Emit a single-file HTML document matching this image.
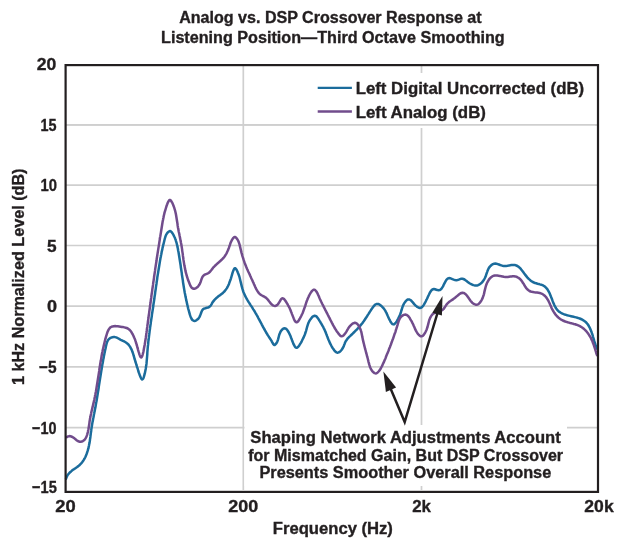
<!DOCTYPE html>
<html><head><meta charset="utf-8"><style>html,body{margin:0;padding:0;background:#fff;width:625px;height:549px;overflow:hidden}svg{display:block;will-change:transform}text{font-family:"Liberation Sans",sans-serif;font-weight:bold}</style></head>
<body><svg width="625" height="549" viewBox="0 0 625 549"><rect width="625" height="549" fill="#fff"/><line x1="66" y1="124.8" x2="597" y2="124.8" stroke="#cfcfcf" stroke-width="1.7"/><line x1="66" y1="185.2" x2="597" y2="185.2" stroke="#cfcfcf" stroke-width="1.7"/><line x1="66" y1="245.5" x2="597" y2="245.5" stroke="#cfcfcf" stroke-width="1.7"/><line x1="66" y1="306.2" x2="597" y2="306.2" stroke="#cfcfcf" stroke-width="1.7"/><line x1="66" y1="366.9" x2="597" y2="366.9" stroke="#cfcfcf" stroke-width="1.7"/><line x1="66" y1="427.6" x2="597" y2="427.6" stroke="#cfcfcf" stroke-width="1.7"/><line x1="243.3" y1="66" x2="243.3" y2="490" stroke="#cfcfcf" stroke-width="1.7"/><line x1="421.5" y1="66" x2="421.5" y2="490" stroke="#cfcfcf" stroke-width="1.7"/><rect x="310" y="73" width="285" height="55" fill="#fff"/><line x1="66" y1="124.8" x2="597" y2="124.8" stroke="#cfcfcf" stroke-width="1.7"/><rect x="244.5" y="425" width="322.5" height="61" fill="#fff"/><path d="M66.1,478.7 L66.5,477.4 L67.1,476.1 L67.7,475.0 L68.5,474.0 L69.3,473.1 L70.1,472.2 L71.1,471.4 L72.0,470.6 L73.0,469.8 L74.1,469.1 L75.1,468.4 L76.1,467.7 L77.2,467.0 L78.1,466.2 L79.1,465.5 L80.0,464.6 L80.9,463.7 L81.7,462.8 L82.5,461.8 L83.2,460.8 L83.9,459.7 L84.5,458.7 L85.1,457.5 L85.6,456.4 L86.1,455.2 L86.6,454.0 L87.0,452.8 L87.4,451.6 L87.8,450.4 L88.1,449.2 L88.5,448.0 L88.7,446.8 L89.0,445.5 L89.2,444.3 L89.5,443.1 L89.7,441.9 L89.9,440.6 L90.0,439.4 L90.2,438.2 L90.4,436.9 L90.5,435.7 L90.7,434.5 L90.8,433.2 L91.0,432.0 L91.2,430.7 L91.3,429.5 L91.5,428.3 L91.7,427.0 L91.9,425.8 L92.1,424.6 L92.3,423.4 L92.5,422.1 L92.8,420.9 L93.0,419.7 L93.2,418.4 L93.5,417.2 L93.7,416.0 L93.9,414.8 L94.2,413.5 L94.4,412.3 L94.7,411.1 L94.9,409.8 L95.1,408.6 L95.4,407.4 L95.6,406.2 L95.8,404.9 L96.0,403.7 L96.2,402.5 L96.5,401.2 L96.7,400.0 L96.9,398.8 L97.1,397.5 L97.3,396.3 L97.5,395.1 L97.7,393.8 L97.9,392.6 L98.1,391.4 L98.3,390.2 L98.5,388.9 L98.7,387.7 L98.8,386.5 L99.0,385.2 L99.2,384.0 L99.4,382.8 L99.6,381.5 L99.8,380.3 L100.0,379.0 L100.2,377.8 L100.4,376.6 L100.6,375.3 L100.8,374.1 L101.0,372.9 L101.2,371.6 L101.4,370.4 L101.6,369.2 L101.8,367.9 L102.0,366.7 L102.2,365.5 L102.4,364.2 L102.7,363.0 L102.9,361.8 L103.1,360.5 L103.3,359.3 L103.6,358.1 L103.8,356.8 L104.0,355.6 L104.3,354.4 L104.5,353.1 L104.8,351.9 L105.0,350.7 L105.3,349.4 L105.6,348.2 L105.8,347.0 L106.1,345.7 L106.4,344.5 L106.7,343.3 L107.1,342.1 L107.6,341.0 L108.2,339.9 L109.0,339.0 L110.0,338.2 L111.2,337.6 L112.4,337.2 L113.7,337.0 L114.9,337.1 L116.1,337.4 L117.3,337.9 L118.4,338.5 L119.6,339.2 L120.7,339.8 L121.9,340.3 L123.0,340.9 L124.1,341.4 L125.2,342.0 L126.3,342.7 L127.2,343.4 L128.1,344.2 L128.9,345.1 L129.6,346.1 L130.3,347.2 L130.9,348.3 L131.5,349.4 L132.0,350.6 L132.4,351.8 L132.9,353.1 L133.3,354.3 L133.6,355.5 L134.0,356.7 L134.3,357.9 L134.6,359.0 L135.0,360.2 L135.3,361.2 L135.6,362.3 L136.0,363.4 L136.3,364.5 L136.7,365.7 L137.0,366.9 L137.5,368.1 L137.9,369.5 L138.3,371.0 L138.8,372.5 L139.4,374.1 L139.9,375.6 L140.5,377.0 L141.0,378.1 L141.6,379.0 L142.1,379.4 L142.6,379.3 L143.1,378.7 L143.6,377.7 L144.0,376.4 L144.4,374.9 L144.8,373.4 L145.1,371.9 L145.4,370.4 L145.7,369.0 L145.9,367.6 L146.1,366.3 L146.3,365.0 L146.5,363.7 L146.6,362.5 L146.7,361.2 L146.8,360.0 L146.9,358.8 L147.0,357.6 L147.1,356.5 L147.2,355.3 L147.3,354.1 L147.3,353.0 L147.4,351.8 L147.5,350.6 L147.6,349.4 L147.7,348.2 L147.8,347.1 L147.9,345.9 L148.1,344.7 L148.2,343.4 L148.3,342.2 L148.4,341.0 L148.6,339.8 L148.7,338.6 L148.9,337.4 L149.0,336.1 L149.2,334.9 L149.3,333.7 L149.5,332.4 L149.6,331.2 L149.8,329.9 L150.0,328.7 L150.1,327.4 L150.3,326.2 L150.5,324.9 L150.7,323.7 L150.8,322.4 L151.0,321.2 L151.2,319.9 L151.4,318.6 L151.6,317.4 L151.8,316.1 L151.9,314.9 L152.1,313.6 L152.3,312.3 L152.5,311.1 L152.7,309.8 L152.9,308.6 L153.1,307.3 L153.3,306.0 L153.4,304.8 L153.6,303.5 L153.8,302.3 L154.0,301.0 L154.2,299.8 L154.4,298.5 L154.5,297.3 L154.7,296.0 L154.9,294.8 L155.1,293.5 L155.2,292.3 L155.4,291.1 L155.6,289.8 L155.8,288.6 L155.9,287.4 L156.1,286.1 L156.3,284.9 L156.5,283.7 L156.6,282.5 L156.8,281.2 L157.0,280.0 L157.2,278.8 L157.3,277.5 L157.5,276.3 L157.7,275.1 L157.9,273.9 L158.1,272.7 L158.3,271.4 L158.5,270.2 L158.7,269.0 L158.9,267.8 L159.1,266.5 L159.3,265.3 L159.5,264.1 L159.7,262.9 L159.9,261.6 L160.1,260.4 L160.3,259.2 L160.5,258.0 L160.8,256.7 L161.0,255.5 L161.3,254.3 L161.5,253.1 L161.7,251.8 L162.0,250.6 L162.3,249.4 L162.5,248.1 L162.8,246.9 L163.1,245.7 L163.4,244.4 L163.7,243.2 L164.0,242.0 L164.3,240.7 L164.6,239.5 L164.9,238.3 L165.3,237.0 L165.7,235.8 L166.2,234.7 L166.9,233.6 L167.7,232.5 L168.7,231.6 L169.8,231.1 L170.8,231.3 L171.6,232.1 L172.4,233.2 L173.0,234.2 L173.7,235.4 L174.2,236.5 L174.8,237.6 L175.2,238.7 L175.7,239.9 L176.0,241.1 L176.4,242.3 L176.7,243.5 L177.0,244.7 L177.3,245.9 L177.5,247.1 L177.8,248.3 L178.0,249.5 L178.2,250.8 L178.5,252.0 L178.7,253.2 L178.9,254.5 L179.1,255.7 L179.3,257.0 L179.5,258.2 L179.7,259.5 L179.9,260.7 L180.1,262.0 L180.3,263.2 L180.5,264.5 L180.7,265.8 L180.8,267.0 L181.0,268.3 L181.2,269.5 L181.4,270.8 L181.6,272.1 L181.8,273.3 L181.9,274.6 L182.1,275.8 L182.3,277.1 L182.5,278.3 L182.7,279.6 L182.9,280.8 L183.0,282.1 L183.2,283.3 L183.4,284.5 L183.6,285.8 L183.8,287.0 L184.0,288.2 L184.2,289.4 L184.4,290.6 L184.6,291.8 L184.8,293.0 L185.1,294.2 L185.3,295.4 L185.5,296.6 L185.8,297.8 L186.0,298.9 L186.2,300.1 L186.5,301.2 L186.8,302.4 L187.0,303.6 L187.3,304.8 L187.6,306.0 L187.9,307.3 L188.2,308.6 L188.6,310.0 L189.0,311.4 L189.4,312.9 L189.8,314.4 L190.3,315.9 L190.8,317.2 L191.4,318.5 L192.0,319.5 L192.8,320.3 L193.6,320.8 L194.5,320.9 L195.6,320.7 L196.6,320.1 L197.7,319.3 L198.6,318.3 L199.4,317.1 L200.0,315.9 L200.5,314.6 L201.0,313.3 L201.4,312.1 L201.9,310.9 L202.5,309.9 L203.2,309.1 L204.2,308.5 L205.4,308.2 L206.7,307.8 L208.0,307.5 L209.1,307.0 L210.1,306.3 L210.8,305.4 L211.5,304.3 L212.1,303.2 L212.7,302.1 L213.5,301.1 L214.3,300.1 L215.2,299.2 L216.1,298.3 L217.1,297.4 L218.1,296.6 L219.1,295.8 L220.2,295.1 L221.2,294.3 L222.2,293.5 L223.1,292.7 L224.0,291.8 L224.8,291.0 L225.5,290.1 L226.2,289.1 L226.9,288.1 L227.4,287.1 L228.0,286.1 L228.5,285.0 L229.0,283.9 L229.4,282.7 L229.8,281.5 L230.3,280.3 L230.7,279.1 L231.1,277.8 L231.5,276.5 L231.9,275.1 L232.3,273.7 L232.7,272.3 L233.2,270.9 L233.7,269.7 L234.2,268.7 L234.8,268.2 L235.4,268.3 L236.0,269.0 L236.7,270.0 L237.3,271.2 L237.8,272.5 L238.3,273.7 L238.8,275.0 L239.2,276.2 L239.6,277.5 L239.9,278.7 L240.2,280.0 L240.5,281.2 L240.8,282.4 L241.1,283.6 L241.4,284.9 L241.7,286.1 L242.0,287.3 L242.3,288.4 L242.7,289.6 L243.0,290.8 L243.4,291.9 L243.9,293.1 L244.4,294.2 L244.9,295.3 L245.4,296.4 L246.0,297.5 L246.6,298.6 L247.2,299.7 L247.9,300.8 L248.5,301.9 L249.2,302.9 L249.9,304.0 L250.6,305.1 L251.3,306.1 L252.0,307.2 L252.7,308.3 L253.3,309.3 L254.0,310.4 L254.7,311.5 L255.3,312.6 L255.9,313.6 L256.5,314.7 L257.2,315.8 L257.8,316.9 L258.3,318.0 L258.9,319.1 L259.5,320.2 L260.1,321.3 L260.7,322.4 L261.3,323.5 L261.8,324.6 L262.4,325.7 L263.0,326.8 L263.6,327.9 L264.2,329.0 L264.8,330.0 L265.4,331.1 L266.0,332.2 L266.6,333.3 L267.3,334.3 L267.9,335.4 L268.6,336.4 L269.3,337.5 L270.0,338.5 L270.7,339.6 L271.4,340.7 L272.0,341.8 L272.7,343.0 L273.3,344.2 L274.0,344.9 L274.7,344.9 L275.6,344.2 L276.5,343.1 L277.2,341.8 L277.7,340.5 L278.1,339.3 L278.4,338.1 L278.7,337.0 L279.0,335.8 L279.3,334.6 L279.8,333.4 L280.3,332.2 L281.0,331.0 L281.9,329.9 L282.8,329.0 L283.7,328.4 L284.7,328.3 L285.7,328.6 L286.6,329.3 L287.4,330.3 L288.2,331.5 L288.9,332.7 L289.5,333.9 L290.0,335.0 L290.5,336.1 L290.9,337.2 L291.3,338.3 L291.8,339.5 L292.2,340.8 L292.8,342.2 L293.3,343.6 L294.0,345.0 L294.7,346.2 L295.4,347.2 L296.2,347.7 L297.0,347.7 L297.8,347.2 L298.6,346.4 L299.4,345.2 L300.2,343.9 L301.0,342.6 L301.7,341.3 L302.3,340.0 L302.9,338.8 L303.5,337.7 L304.0,336.6 L304.4,335.5 L304.9,334.4 L305.3,333.3 L305.6,332.2 L306.0,331.1 L306.3,330.0 L306.6,328.9 L306.9,327.7 L307.2,326.6 L307.6,325.4 L308.0,324.2 L308.4,323.0 L309.0,321.8 L309.6,320.6 L310.4,319.4 L311.3,318.2 L312.2,317.1 L313.2,316.3 L314.2,315.8 L315.2,315.8 L316.2,316.2 L317.0,317.1 L317.9,318.2 L318.7,319.4 L319.4,320.6 L320.2,321.8 L320.8,322.9 L321.5,324.0 L322.1,325.1 L322.7,326.2 L323.3,327.2 L323.8,328.3 L324.4,329.4 L324.9,330.5 L325.3,331.6 L325.8,332.7 L326.2,333.8 L326.7,335.0 L327.1,336.2 L327.6,337.3 L328.0,338.5 L328.5,339.7 L329.0,340.8 L329.5,342.0 L330.0,343.2 L330.6,344.3 L331.2,345.5 L331.8,346.6 L332.4,347.7 L333.2,348.8 L333.9,349.8 L334.7,350.9 L335.6,351.8 L336.5,352.4 L337.5,352.7 L338.6,352.4 L339.7,351.8 L340.8,350.8 L341.7,349.7 L342.5,348.6 L343.1,347.4 L343.7,346.3 L344.1,345.1 L344.6,343.9 L345.0,342.8 L345.5,341.7 L346.1,340.7 L346.8,339.7 L347.5,338.7 L348.3,337.8 L349.2,336.9 L350.1,336.1 L351.0,335.2 L352.0,334.3 L352.9,333.4 L353.8,332.5 L354.7,331.6 L355.6,330.7 L356.5,329.8 L357.4,328.9 L358.2,328.0 L359.1,327.0 L359.9,326.1 L360.7,325.1 L361.5,324.2 L362.3,323.2 L363.0,322.2 L363.7,321.3 L364.4,320.3 L365.1,319.3 L365.7,318.2 L366.4,317.2 L367.1,316.2 L367.7,315.1 L368.4,314.1 L369.1,313.0 L369.8,311.9 L370.5,310.8 L371.2,309.7 L372.0,308.6 L372.8,307.4 L373.6,306.3 L374.5,305.3 L375.4,304.5 L376.4,304.0 L377.5,303.9 L378.6,304.1 L379.7,304.7 L380.8,305.5 L381.8,306.4 L382.7,307.3 L383.5,308.2 L384.2,309.1 L384.9,310.1 L385.5,311.1 L386.0,312.1 L386.6,313.2 L387.1,314.4 L387.6,315.6 L388.2,316.9 L388.8,318.2 L389.5,319.7 L390.2,321.0 L390.9,322.3 L391.7,323.3 L392.5,324.1 L393.4,324.4 L394.2,324.2 L395.0,323.5 L395.9,322.5 L396.7,321.4 L397.4,320.1 L398.1,318.8 L398.7,317.6 L399.3,316.4 L399.8,315.3 L400.2,314.2 L400.7,313.1 L401.0,312.0 L401.3,310.8 L401.7,309.7 L402.0,308.5 L402.4,307.3 L402.8,306.1 L403.4,304.9 L404.0,303.6 L404.8,302.4 L405.7,301.2 L406.6,300.3 L407.6,299.6 L408.6,299.4 L409.5,299.5 L410.4,300.0 L411.4,300.8 L412.3,301.8 L413.2,302.9 L414.2,304.1 L415.2,305.2 L416.3,306.1 L417.3,306.9 L418.4,307.5 L419.4,307.9 L420.4,307.9 L421.4,307.5 L422.2,306.8 L423.1,305.9 L423.8,304.8 L424.5,303.6 L425.2,302.4 L425.8,301.2 L426.3,300.1 L426.9,299.0 L427.4,297.9 L427.9,296.8 L428.4,295.7 L429.0,294.5 L429.6,293.2 L430.3,292.0 L431.0,290.9 L431.9,289.9 L432.8,289.3 L433.9,289.1 L435.1,289.3 L436.3,289.7 L437.5,290.1 L438.6,290.3 L439.7,290.1 L440.6,289.5 L441.5,288.7 L442.2,287.6 L443.0,286.4 L443.6,285.0 L444.3,283.6 L445.0,282.3 L445.7,281.0 L446.4,279.9 L447.2,279.0 L448.1,278.4 L449.0,278.1 L450.1,278.2 L451.2,278.6 L452.4,279.1 L453.7,279.6 L455.0,280.0 L456.3,280.2 L457.5,280.0 L458.8,279.6 L460.0,279.1 L461.2,278.8 L462.3,278.7 L463.4,279.0 L464.5,279.5 L465.5,280.3 L466.6,281.1 L467.7,281.9 L468.8,282.7 L469.9,283.5 L471.1,284.1 L472.3,284.7 L473.5,285.1 L474.6,285.4 L475.8,285.5 L476.9,285.5 L478.0,285.2 L479.1,284.7 L480.1,284.0 L481.1,283.3 L482.0,282.4 L482.8,281.4 L483.6,280.3 L484.3,279.1 L484.9,278.0 L485.5,276.8 L485.9,275.6 L486.3,274.4 L486.7,273.2 L487.1,272.1 L487.5,270.9 L488.0,269.8 L488.5,268.7 L489.1,267.6 L489.9,266.6 L490.8,265.7 L491.8,264.8 L492.9,264.1 L494.1,263.7 L495.3,263.6 L496.5,263.7 L497.7,264.1 L498.9,264.5 L500.2,265.0 L501.4,265.4 L502.6,265.7 L503.8,265.9 L505.0,265.9 L506.2,265.9 L507.5,265.8 L508.8,265.6 L510.2,265.3 L511.5,265.1 L512.8,265.0 L514.0,265.0 L515.2,265.1 L516.3,265.5 L517.4,266.0 L518.3,266.6 L519.3,267.4 L520.1,268.2 L521.0,269.2 L521.8,270.2 L522.6,271.2 L523.4,272.3 L524.2,273.4 L524.9,274.4 L525.7,275.4 L526.5,276.4 L527.3,277.4 L528.1,278.3 L529.0,279.1 L529.9,279.9 L530.8,280.7 L531.8,281.4 L532.8,282.0 L533.9,282.5 L535.1,283.0 L536.3,283.3 L537.5,283.7 L538.8,284.0 L540.0,284.4 L541.2,284.7 L542.4,285.2 L543.5,285.7 L544.4,286.3 L545.4,287.1 L546.2,287.9 L547.0,288.8 L547.7,289.8 L548.3,290.8 L548.9,291.9 L549.5,293.0 L550.0,294.2 L550.5,295.4 L551.0,296.7 L551.5,297.9 L552.0,299.2 L552.4,300.4 L552.9,301.7 L553.4,302.9 L553.9,304.1 L554.4,305.3 L555.0,306.4 L555.6,307.5 L556.2,308.5 L557.0,309.5 L557.7,310.4 L558.6,311.2 L559.5,311.9 L560.4,312.5 L561.5,313.1 L562.5,313.6 L563.7,314.1 L564.8,314.5 L566.0,314.9 L567.2,315.3 L568.5,315.6 L569.8,315.9 L571.0,316.2 L572.3,316.5 L573.6,316.8 L574.8,317.1 L576.1,317.4 L577.3,317.7 L578.5,318.1 L579.7,318.5 L580.9,319.0 L582.0,319.5 L583.0,320.1 L584.0,320.7 L585.0,321.4 L585.9,322.2 L586.7,323.1 L587.5,324.0 L588.2,325.0 L588.8,326.0 L589.4,327.1 L590.0,328.3 L590.5,329.5 L591.0,330.7 L591.5,331.9 L591.9,333.2 L592.4,334.5 L592.8,335.8 L593.1,337.1 L593.5,338.3 L593.9,339.6 L594.2,340.9 L594.6,342.1 L595.0,343.3 L595.4,344.5 L595.8,345.6 L596.2,346.7 L596.6,347.7 L597.0,348.7" fill="none" stroke="#1b6c9c" stroke-width="2.5" stroke-linejoin="round" stroke-linecap="round"/><path d="M66.8,437.1 L68.1,436.4 L69.4,436.1 L70.6,436.3 L71.8,436.7 L72.9,437.3 L74.0,438.1 L75.2,439.0 L76.2,439.9 L77.3,440.7 L78.4,441.3 L79.6,441.7 L80.7,441.8 L81.8,441.6 L82.9,441.1 L84.0,440.3 L84.9,439.4 L85.6,438.3 L86.2,437.1 L86.7,435.9 L87.2,434.6 L87.5,433.3 L87.9,432.0 L88.1,430.8 L88.4,429.5 L88.6,428.2 L88.8,427.0 L89.0,425.8 L89.2,424.5 L89.4,423.3 L89.5,422.0 L89.7,420.8 L89.9,419.6 L90.1,418.3 L90.4,417.1 L90.6,415.8 L90.9,414.5 L91.2,413.3 L91.4,412.0 L91.7,410.7 L92.0,409.5 L92.3,408.2 L92.6,406.9 L92.9,405.7 L93.2,404.4 L93.5,403.1 L93.8,401.9 L94.1,400.6 L94.4,399.3 L94.6,398.0 L94.9,396.8 L95.1,395.5 L95.4,394.3 L95.6,393.0 L95.9,391.7 L96.1,390.5 L96.3,389.2 L96.5,388.0 L96.7,386.7 L96.9,385.5 L97.1,384.2 L97.3,382.9 L97.5,381.7 L97.7,380.4 L97.9,379.2 L98.1,377.9 L98.3,376.7 L98.5,375.4 L98.7,374.2 L98.9,372.9 L99.1,371.7 L99.3,370.4 L99.4,369.2 L99.6,367.9 L99.8,366.7 L100.0,365.4 L100.2,364.2 L100.4,362.9 L100.6,361.6 L100.9,360.4 L101.1,359.1 L101.3,357.9 L101.5,356.6 L101.7,355.3 L102.0,354.1 L102.2,352.8 L102.5,351.5 L102.7,350.3 L103.0,349.0 L103.3,347.7 L103.6,346.4 L103.9,345.1 L104.2,343.9 L104.5,342.6 L104.8,341.3 L105.1,340.0 L105.5,338.7 L105.8,337.4 L106.2,336.1 L106.6,334.8 L107.0,333.5 L107.4,332.3 L107.9,331.1 L108.5,329.9 L109.1,328.9 L109.8,328.0 L110.6,327.3 L111.6,326.7 L112.6,326.4 L113.8,326.2 L115.1,326.1 L116.4,326.2 L117.8,326.3 L119.2,326.5 L120.5,326.7 L121.9,326.9 L123.2,327.1 L124.4,327.4 L125.6,327.7 L126.7,328.0 L127.8,328.5 L128.8,329.2 L129.8,330.0 L130.6,331.0 L131.4,332.1 L132.1,333.3 L132.8,334.5 L133.4,335.7 L133.9,336.9 L134.4,338.1 L134.9,339.2 L135.3,340.4 L135.7,341.5 L136.0,342.7 L136.4,343.8 L136.7,345.0 L137.1,346.2 L137.4,347.5 L137.8,348.7 L138.1,350.1 L138.5,351.4 L139.0,352.9 L139.4,354.3 L139.9,355.7 L140.4,356.8 L141.0,357.4 L141.4,357.4 L141.9,356.8 L142.3,355.8 L142.7,354.5 L143.1,352.9 L143.5,351.2 L143.8,349.5 L144.1,347.8 L144.4,346.3 L144.7,344.8 L144.9,343.4 L145.1,342.1 L145.3,340.8 L145.5,339.6 L145.7,338.4 L145.9,337.2 L146.0,336.1 L146.2,335.0 L146.3,333.8 L146.5,332.7 L146.6,331.5 L146.8,330.4 L146.9,329.2 L147.1,327.9 L147.3,326.7 L147.4,325.5 L147.6,324.2 L147.8,323.0 L147.9,321.7 L148.1,320.4 L148.3,319.1 L148.5,317.8 L148.6,316.5 L148.8,315.2 L149.0,313.9 L149.2,312.6 L149.3,311.4 L149.5,310.1 L149.7,308.8 L149.9,307.5 L150.0,306.2 L150.2,304.9 L150.4,303.6 L150.6,302.3 L150.7,301.1 L150.9,299.8 L151.1,298.5 L151.3,297.2 L151.4,295.9 L151.6,294.6 L151.8,293.3 L152.0,292.1 L152.2,290.8 L152.3,289.5 L152.5,288.2 L152.7,287.0 L152.9,285.7 L153.1,284.4 L153.2,283.1 L153.4,281.8 L153.6,280.6 L153.8,279.3 L154.0,278.0 L154.1,276.7 L154.3,275.5 L154.5,274.2 L154.7,272.9 L154.9,271.7 L155.1,270.4 L155.2,269.1 L155.4,267.9 L155.6,266.6 L155.8,265.3 L156.0,264.0 L156.2,262.8 L156.4,261.5 L156.6,260.3 L156.7,259.0 L156.9,257.7 L157.1,256.5 L157.3,255.2 L157.5,253.9 L157.7,252.7 L157.9,251.4 L158.1,250.1 L158.3,248.9 L158.5,247.6 L158.7,246.4 L158.9,245.1 L159.1,243.9 L159.3,242.6 L159.5,241.3 L159.7,240.1 L159.9,238.8 L160.0,237.6 L160.3,236.3 L160.5,235.1 L160.7,233.8 L160.9,232.6 L161.1,231.3 L161.3,230.0 L161.5,228.8 L161.7,227.5 L161.9,226.3 L162.1,225.0 L162.3,223.8 L162.5,222.5 L162.7,221.3 L163.0,220.0 L163.2,218.8 L163.5,217.5 L163.7,216.2 L164.0,215.0 L164.3,213.7 L164.6,212.4 L165.0,211.1 L165.4,209.8 L165.8,208.5 L166.2,207.2 L166.6,205.8 L167.1,204.5 L167.6,203.1 L168.2,201.9 L168.8,200.8 L169.4,200.1 L170.0,200.0 L170.7,200.3 L171.3,201.2 L172.0,202.3 L172.6,203.6 L173.2,205.0 L173.7,206.3 L174.2,207.7 L174.6,209.0 L175.0,210.3 L175.3,211.5 L175.6,212.8 L175.9,214.1 L176.1,215.3 L176.3,216.5 L176.5,217.8 L176.7,219.0 L176.9,220.2 L177.1,221.5 L177.3,222.7 L177.5,223.9 L177.6,225.2 L177.8,226.4 L178.0,227.7 L178.3,228.9 L178.5,230.2 L178.7,231.5 L179.0,232.7 L179.3,234.0 L179.5,235.3 L179.8,236.6 L180.0,237.9 L180.3,239.2 L180.5,240.4 L180.8,241.7 L181.0,243.0 L181.3,244.3 L181.5,245.6 L181.7,246.8 L181.9,248.1 L182.1,249.4 L182.2,250.6 L182.4,251.9 L182.6,253.1 L182.8,254.4 L182.9,255.7 L183.1,256.9 L183.3,258.2 L183.4,259.4 L183.6,260.6 L183.8,261.9 L184.0,263.1 L184.2,264.4 L184.4,265.6 L184.7,266.9 L184.9,268.1 L185.2,269.4 L185.4,270.6 L185.7,271.9 L186.0,273.2 L186.4,274.4 L186.7,275.7 L187.1,277.0 L187.5,278.2 L187.9,279.5 L188.4,280.8 L188.9,282.1 L189.4,283.3 L189.9,284.6 L190.5,285.9 L191.2,287.0 L191.9,287.9 L192.8,288.5 L193.7,288.8 L194.8,288.7 L196.0,288.1 L197.2,287.3 L198.2,286.3 L199.1,285.1 L199.8,283.9 L200.4,282.6 L200.8,281.4 L201.2,280.1 L201.6,278.9 L202.1,277.7 L202.7,276.6 L203.4,275.7 L204.3,274.9 L205.4,274.3 L206.7,273.8 L208.0,273.3 L209.1,272.6 L210.0,271.8 L210.8,270.8 L211.6,269.8 L212.4,268.7 L213.1,267.7 L214.0,266.8 L214.9,265.9 L215.8,265.0 L216.8,264.1 L217.7,263.3 L218.7,262.4 L219.7,261.6 L220.6,260.7 L221.6,259.8 L222.5,258.9 L223.4,258.0 L224.2,257.0 L224.9,256.0 L225.6,254.9 L226.3,253.8 L226.9,252.6 L227.4,251.5 L228.0,250.3 L228.4,249.1 L228.9,247.9 L229.3,246.7 L229.7,245.5 L230.1,244.4 L230.5,243.1 L231.0,241.9 L231.6,240.7 L232.3,239.4 L233.1,238.2 L234.0,237.3 L234.9,237.0 L235.8,237.4 L236.7,238.4 L237.5,239.5 L238.2,240.8 L238.7,242.0 L239.1,243.2 L239.5,244.4 L239.8,245.6 L240.1,246.9 L240.4,248.1 L240.7,249.4 L241.0,250.6 L241.3,251.9 L241.6,253.1 L242.0,254.4 L242.3,255.6 L242.7,256.9 L243.1,258.1 L243.5,259.4 L243.9,260.6 L244.3,261.8 L244.7,263.0 L245.2,264.2 L245.7,265.4 L246.1,266.5 L246.6,267.7 L247.1,268.9 L247.6,270.0 L248.1,271.2 L248.6,272.3 L249.2,273.5 L249.7,274.6 L250.2,275.8 L250.8,277.0 L251.3,278.2 L251.8,279.3 L252.4,280.5 L252.9,281.7 L253.5,282.9 L254.0,284.2 L254.6,285.4 L255.1,286.7 L255.7,287.9 L256.3,289.1 L256.9,290.2 L257.6,291.3 L258.3,292.4 L259.1,293.3 L260.0,294.2 L261.0,294.9 L262.0,295.5 L263.1,296.1 L264.2,296.7 L265.3,297.3 L266.3,298.1 L267.3,299.0 L268.2,300.1 L269.0,301.2 L269.9,302.3 L270.7,303.4 L271.6,304.3 L272.5,305.1 L273.5,305.6 L274.5,305.9 L275.5,305.9 L276.5,305.5 L277.5,304.7 L278.4,303.6 L279.2,302.3 L280.0,301.0 L280.7,299.8 L281.5,298.8 L282.3,298.3 L283.2,298.4 L284.1,299.1 L285.0,300.2 L285.9,301.5 L286.7,302.8 L287.5,304.1 L288.1,305.3 L288.7,306.4 L289.3,307.5 L289.8,308.5 L290.2,309.6 L290.7,310.7 L291.1,311.8 L291.6,312.9 L292.0,314.1 L292.5,315.4 L293.1,316.9 L293.7,318.4 L294.3,319.8 L295.0,321.1 L295.7,321.9 L296.5,322.3 L297.3,322.0 L298.2,321.2 L299.0,320.0 L299.8,318.7 L300.5,317.3 L301.2,316.0 L301.8,314.7 L302.4,313.5 L302.9,312.4 L303.3,311.2 L303.7,310.1 L304.1,309.0 L304.5,307.9 L304.9,306.8 L305.3,305.7 L305.6,304.6 L306.0,303.4 L306.4,302.2 L306.8,301.0 L307.3,299.8 L307.8,298.5 L308.4,297.2 L309.0,295.8 L309.7,294.5 L310.5,293.1 L311.3,291.9 L312.1,290.9 L313.0,290.1 L313.8,289.7 L314.6,289.8 L315.3,290.2 L316.0,291.0 L316.7,292.0 L317.4,293.2 L318.0,294.6 L318.7,296.0 L319.3,297.5 L319.9,298.9 L320.5,300.2 L321.1,301.5 L321.7,302.7 L322.3,304.0 L322.9,305.1 L323.5,306.3 L324.0,307.4 L324.6,308.5 L325.1,309.6 L325.7,310.7 L326.3,311.8 L326.8,312.9 L327.4,313.9 L327.9,315.0 L328.5,316.1 L329.0,317.1 L329.6,318.2 L330.1,319.4 L330.7,320.5 L331.3,321.6 L331.9,322.8 L332.5,323.9 L333.1,325.1 L333.7,326.2 L334.4,327.4 L335.0,328.6 L335.8,329.7 L336.5,330.9 L337.3,332.0 L338.1,333.1 L338.9,334.2 L339.8,335.2 L340.7,336.0 L341.7,336.3 L342.6,336.1 L343.5,335.4 L344.4,334.4 L345.3,333.3 L346.1,332.1 L346.8,330.9 L347.4,329.8 L348.1,328.7 L348.7,327.7 L349.5,326.6 L350.4,325.6 L351.4,324.6 L352.5,323.7 L353.7,323.1 L354.8,322.8 L355.9,323.0 L356.9,323.6 L357.9,324.6 L358.7,325.8 L359.4,327.0 L360.0,328.2 L360.5,329.4 L360.9,330.7 L361.3,331.9 L361.6,333.2 L361.8,334.4 L362.1,335.7 L362.3,336.9 L362.6,338.2 L362.8,339.4 L363.1,340.6 L363.4,341.9 L363.7,343.1 L364.0,344.3 L364.3,345.6 L364.6,346.8 L364.9,348.0 L365.2,349.2 L365.6,350.5 L365.9,351.7 L366.2,353.0 L366.6,354.2 L366.9,355.5 L367.2,356.7 L367.6,358.0 L367.9,359.2 L368.2,360.5 L368.5,361.8 L368.9,363.1 L369.2,364.4 L369.6,365.6 L370.0,366.9 L370.5,368.1 L371.0,369.2 L371.7,370.3 L372.5,371.4 L373.4,372.3 L374.4,373.1 L375.5,373.4 L376.6,373.2 L377.7,372.5 L378.6,371.5 L379.5,370.4 L380.3,369.3 L380.9,368.2 L381.5,367.0 L382.1,365.9 L382.6,364.7 L383.1,363.6 L383.7,362.4 L384.2,361.2 L384.7,360.0 L385.2,358.9 L385.7,357.7 L386.1,356.5 L386.6,355.3 L387.1,354.1 L387.6,352.9 L388.1,351.7 L388.6,350.5 L389.0,349.3 L389.5,348.1 L390.0,346.9 L390.4,345.7 L390.9,344.5 L391.3,343.3 L391.8,342.1 L392.2,340.9 L392.6,339.7 L393.1,338.5 L393.5,337.3 L393.9,336.1 L394.3,334.9 L394.7,333.7 L395.2,332.5 L395.6,331.3 L395.9,330.1 L396.3,328.9 L396.7,327.6 L397.1,326.4 L397.5,325.1 L397.8,323.9 L398.2,322.6 L398.6,321.3 L399.1,320.1 L399.6,318.9 L400.3,317.8 L401.1,316.8 L402.1,315.9 L403.3,315.2 L404.5,314.7 L405.7,314.6 L406.8,315.0 L407.8,315.7 L408.7,316.7 L409.6,317.8 L410.3,319.1 L411.0,320.3 L411.7,321.4 L412.2,322.6 L412.8,323.7 L413.3,324.8 L413.8,326.0 L414.3,327.1 L414.8,328.2 L415.3,329.4 L415.9,330.6 L416.5,331.7 L417.2,332.8 L417.9,333.9 L418.9,335.0 L419.9,335.8 L420.9,336.3 L422.0,336.2 L423.0,335.6 L423.9,334.6 L424.8,333.3 L425.5,332.0 L426.1,330.7 L426.7,329.4 L427.1,328.2 L427.5,327.0 L427.8,325.8 L428.1,324.6 L428.4,323.4 L428.7,322.2 L429.0,321.0 L429.4,319.7 L429.9,318.5 L430.4,317.3 L431.1,316.1 L431.8,315.1 L432.7,314.1 L433.7,313.4 L434.8,312.8 L436.0,312.3 L437.3,311.9 L438.6,311.5 L439.8,311.1 L441.0,310.7 L442.2,310.1 L443.1,309.4 L444.0,308.5 L444.7,307.4 L445.4,306.3 L446.1,305.2 L446.9,304.1 L447.8,303.2 L448.7,302.3 L449.7,301.5 L450.8,300.8 L451.8,300.1 L452.9,299.4 L453.9,298.6 L454.9,297.9 L455.9,297.0 L457.0,296.1 L458.1,295.2 L459.2,294.3 L460.3,293.5 L461.4,293.0 L462.5,292.7 L463.6,292.9 L464.6,293.4 L465.7,294.2 L466.6,295.3 L467.5,296.4 L468.3,297.5 L469.0,298.6 L469.8,299.7 L470.5,300.7 L471.3,301.7 L472.2,302.7 L473.2,303.5 L474.4,304.2 L475.6,304.7 L476.8,304.7 L477.9,304.4 L478.9,303.7 L479.9,302.7 L480.7,301.6 L481.5,300.3 L482.1,299.1 L482.7,297.9 L483.1,296.7 L483.5,295.5 L483.9,294.3 L484.2,293.1 L484.4,291.9 L484.7,290.6 L485.0,289.4 L485.3,288.2 L485.6,287.0 L486.0,285.7 L486.4,284.5 L486.9,283.2 L487.5,282.0 L488.2,280.8 L488.9,279.6 L489.7,278.6 L490.6,277.7 L491.5,276.9 L492.5,276.2 L493.6,275.8 L494.7,275.5 L495.9,275.4 L497.2,275.5 L498.5,275.7 L499.8,275.9 L501.2,276.2 L502.5,276.5 L503.9,276.8 L505.2,276.9 L506.5,277.0 L507.8,277.0 L509.1,276.8 L510.3,276.6 L511.5,276.4 L512.7,276.2 L513.9,276.2 L515.2,276.4 L516.4,276.7 L517.5,277.3 L518.7,277.9 L519.7,278.7 L520.6,279.7 L521.5,280.7 L522.3,281.8 L523.0,283.0 L523.8,284.1 L524.5,285.3 L525.2,286.5 L525.9,287.6 L526.7,288.6 L527.6,289.5 L528.5,290.3 L529.5,291.0 L530.6,291.5 L531.8,291.8 L533.1,292.1 L534.4,292.3 L535.7,292.4 L537.1,292.6 L538.4,292.8 L539.7,293.0 L540.9,293.4 L542.0,293.8 L543.1,294.5 L544.1,295.2 L545.0,296.0 L545.8,296.9 L546.6,297.9 L547.3,299.0 L548.0,300.1 L548.6,301.2 L549.1,302.3 L549.7,303.5 L550.2,304.7 L550.7,305.8 L551.2,307.0 L551.7,308.2 L552.3,309.4 L552.9,310.5 L553.6,311.7 L554.3,312.8 L555.0,313.8 L555.8,314.9 L556.7,315.8 L557.6,316.8 L558.6,317.7 L559.6,318.5 L560.6,319.2 L561.7,319.9 L562.8,320.5 L564.0,321.0 L565.2,321.5 L566.4,321.9 L567.6,322.3 L568.9,322.6 L570.2,323.0 L571.4,323.3 L572.7,323.6 L573.9,324.0 L575.2,324.3 L576.4,324.7 L577.6,325.2 L578.8,325.7 L579.9,326.2 L581.0,326.8 L582.1,327.5 L583.1,328.3 L584.1,329.1 L585.0,329.9 L585.9,330.8 L586.7,331.8 L587.5,332.8 L588.3,333.8 L589.0,334.9 L589.7,336.0 L590.4,337.1 L591.0,338.2 L591.5,339.4 L592.1,340.6 L592.6,341.8 L593.0,343.0 L593.5,344.2 L593.9,345.4 L594.3,346.7 L594.7,347.9 L595.1,349.1 L595.5,350.4 L595.9,351.6 L596.2,352.8 L596.6,354.0 L597.0,355.2" fill="none" stroke="#714c8c" stroke-width="2.5" stroke-linejoin="round" stroke-linecap="round"/><rect x="65.6" y="65.1" width="532.4" height="426.79999999999995" fill="none" stroke="#231f20" stroke-width="2.2"/><line x1="317.7" y1="87.8" x2="351.9" y2="87.8" stroke="#1b6c9c" stroke-width="2.3"/><line x1="317.7" y1="111.5" x2="351.9" y2="111.5" stroke="#714c8c" stroke-width="2.3"/><text x="179.16" y="23.0"  font-size="16" fill="#231f20" stroke="#231f20" stroke-width="0.35" textLength="302.49" lengthAdjust="spacingAndGlyphs">Analog vs. DSP Crossover Response at</text><text x="161.04" y="43.0"  font-size="16" fill="#231f20" stroke="#231f20" stroke-width="0.35" textLength="343.69" lengthAdjust="spacingAndGlyphs">Listening Position—Third Octave Smoothing</text><text x="355.69" y="93.6"  font-size="16" fill="#231f20" stroke="#231f20" stroke-width="0.35" textLength="228.41" lengthAdjust="spacingAndGlyphs">Left Digital Uncorrected (dB)</text><text x="355.71" y="117.5"  font-size="16" fill="#231f20" stroke="#231f20" stroke-width="0.35" textLength="130.18" lengthAdjust="spacingAndGlyphs">Left Analog (dB)</text><text x="272.82" y="534.2"  font-size="16" fill="#231f20" stroke="#231f20" stroke-width="0.35" textLength="120.08" lengthAdjust="spacingAndGlyphs">Frequency (Hz)</text><text transform="translate(24.4,385.1) rotate(-90)" x="0" y="0"  font-size="16" fill="#231f20" stroke="#231f20" stroke-width="0.35" textLength="216.58" lengthAdjust="spacingAndGlyphs">1 kHz Normalized Level (dB)</text><text x="250.36" y="443.0"  font-size="16" fill="#231f20" stroke="#231f20" stroke-width="0.35" textLength="310.38" lengthAdjust="spacingAndGlyphs">Shaping Network Adjustments Account</text><text x="248.23" y="460.6"  font-size="16" fill="#231f20" stroke="#231f20" stroke-width="0.35" textLength="314.85" lengthAdjust="spacingAndGlyphs">for Mismatched Gain, But DSP Crossover</text><text x="259.44" y="478.2"  font-size="16" fill="#231f20" stroke="#231f20" stroke-width="0.35" textLength="291.81" lengthAdjust="spacingAndGlyphs">Presents Smoother Overall Response</text><text x="36.71" y="70.1"  font-size="17" fill="#231f20" stroke="#231f20" stroke-width="0.35" textLength="19.58" lengthAdjust="spacingAndGlyphs">20</text><text x="40.57" y="130.7"  font-size="17" fill="#231f20" stroke="#231f20" stroke-width="0.35" textLength="16.02" lengthAdjust="spacingAndGlyphs">15</text><text x="40.43" y="191.1"  font-size="17" fill="#231f20" stroke="#231f20" stroke-width="0.35" textLength="16.5" lengthAdjust="spacingAndGlyphs">10</text><text x="47.04" y="251.6"  font-size="17" fill="#231f20" stroke="#231f20" stroke-width="0.35" textLength="9.6" lengthAdjust="spacingAndGlyphs">5</text><text x="46.99" y="312.1"  font-size="17" fill="#231f20" stroke="#231f20" stroke-width="0.35" textLength="10.08" lengthAdjust="spacingAndGlyphs">0</text><text x="38.91" y="372.8"  font-size="17" fill="#231f20" stroke="#231f20" stroke-width="0.35" textLength="17.63" lengthAdjust="spacingAndGlyphs">−5</text><text x="32.05" y="433.5"  font-size="17" fill="#231f20" stroke="#231f20" stroke-width="0.35" textLength="24.49" lengthAdjust="spacingAndGlyphs">−10</text><text x="32.01" y="493.2"  font-size="17" fill="#231f20" stroke="#231f20" stroke-width="0.35" textLength="24.81" lengthAdjust="spacingAndGlyphs">−15</text><text x="55.39" y="511.9"  font-size="17" fill="#231f20" stroke="#231f20" stroke-width="0.35" textLength="20.48" lengthAdjust="spacingAndGlyphs">20</text><text x="228.27" y="511.9"  font-size="17" fill="#231f20" stroke="#231f20" stroke-width="0.35" textLength="29.98" lengthAdjust="spacingAndGlyphs">200</text><text x="412.24" y="511.9"  font-size="17" fill="#231f20" stroke="#231f20" stroke-width="0.35" textLength="18.73" lengthAdjust="spacingAndGlyphs">2k</text><text x="584.35" y="511.9"  font-size="17" fill="#231f20" stroke="#231f20" stroke-width="0.35" textLength="29.33" lengthAdjust="spacingAndGlyphs">20k</text><polyline points="389.5,386 404.7,422 439,308" fill="none" stroke="#231f20" stroke-width="2.5" stroke-linejoin="miter" stroke-miterlimit="10"/><polygon points="383.4,371.5 385.9,391.9 396.1,387.4" fill="#231f20"/><polygon points="442.5,296.1 432.3,312.8 441.9,315.6" fill="#231f20"/></svg></body></html>
